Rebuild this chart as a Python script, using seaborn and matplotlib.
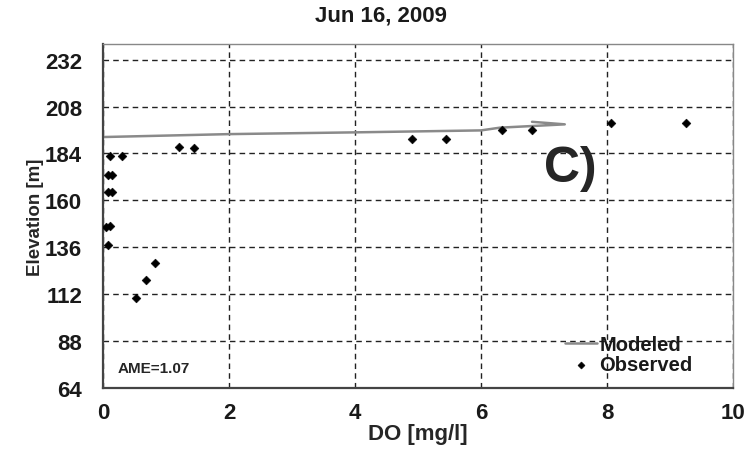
import matplotlib
matplotlib.use("Agg")
import numpy as np
import pandas as pd
import matplotlib.pyplot as plt
import seaborn as sns

# ---- data ----
modeled_do = [0.0, 2.0, 4.0, 6.0, 6.3, 7.33, 6.81]
modeled_elev = [192.4, 193.9, 194.8, 195.8, 197.2, 198.9, 200.2]

observed_do = [1.20, 1.45, 0.11, 0.30, 0.085, 0.15, 0.085, 0.15, 0.05, 0.11,
               0.085, 0.83, 0.69, 0.53, 4.90, 5.45, 6.33, 6.81, 8.07, 9.25]
observed_elev = [187.4, 186.6, 182.6, 182.6, 173.2, 173.2, 164.4, 164.4, 146.4, 147.0,
                 137.0, 128.1, 119.0, 110.3, 191.3, 191.3, 195.8, 195.8, 199.7, 199.7]

x_ticks = [0, 2, 4, 6, 8, 10]
y_ticks = [64, 88, 112, 136, 160, 184, 208, 232]

title = "Jun 16, 2009"
ame_text = "AME=1.07"
panel_label = "C)"

# ---- plot ----
sns.set_style("white")
plt.rcParams['font.family'] = ['Liberation Sans', 'DejaVu Sans']

modeled = pd.DataFrame({"DO": modeled_do, "Elevation": modeled_elev})
observed = pd.DataFrame({"DO": observed_do, "Elevation": observed_elev})

fig = plt.figure(figsize=(7.49, 4.52), dpi=100)
ax = fig.add_axes([0.1375, 0.1394, 0.8411, 0.761])

sns.lineplot(data=modeled, x="DO", y="Elevation", sort=False, estimator=None,
             color="#8a8a8a", linewidth=1.8, label="Modeled", ax=ax)
sns.scatterplot(data=observed, x="DO", y="Elevation", marker="D", s=20,
                color="black", edgecolor="black", linewidth=0.4,
                label="Observed", ax=ax, zorder=3)

ax.set_xlim(0, 10)
ax.set_ylim(64, 240)
ax.set_xticks(x_ticks)
ax.set_yticks(y_ticks)
ax.tick_params(axis="y", length=0, labelsize=16, pad=15)
ax.tick_params(axis="x", length=0, labelsize=16, pad=10)
for lbl in ax.get_xticklabels() + ax.get_yticklabels():
    lbl.set_fontweight("bold")
    lbl.set_color("#1a1a1a")

ax.grid(True, linestyle=(0, (4, 3)), color="#222222", linewidth=1.0)

ax.set_xlabel("DO [mg/l]", fontsize=16, fontweight="bold", labelpad=0)
ax.set_ylabel("Elevation [m]", fontsize=13.5, fontweight="bold", labelpad=1)
fig.text(0.509, 0.965, title, fontsize=16, fontweight="bold",
         ha="center", va="center", color="#1a1a1a")

for side in ["top", "right"]:
    ax.spines[side].set_color("#888888")
    ax.spines[side].set_linewidth(1.0)
for side in ["left", "bottom"]:
    ax.spines[side].set_color("#444444")
    ax.spines[side].set_linewidth(1.6)

ax.text(7.42, 176.5, panel_label, fontsize=36, fontweight="bold",
        ha="center", va="center")
ax.text(0.24, 74, ame_text, fontsize=11, fontweight="bold", ha="left", va="center")

leg = ax.legend(loc="lower right", bbox_to_anchor=(0.955, 0.005), frameon=False,
                fontsize=14.5, handlelength=1.6, handletextpad=0.1,
                labelspacing=0.08, borderaxespad=0.2, markerscale=0.8)
for t in leg.get_texts():
    t.set_fontweight("bold")
    t.set_color("#1a1a1a")

fig.savefig("out.png", dpi=100)
